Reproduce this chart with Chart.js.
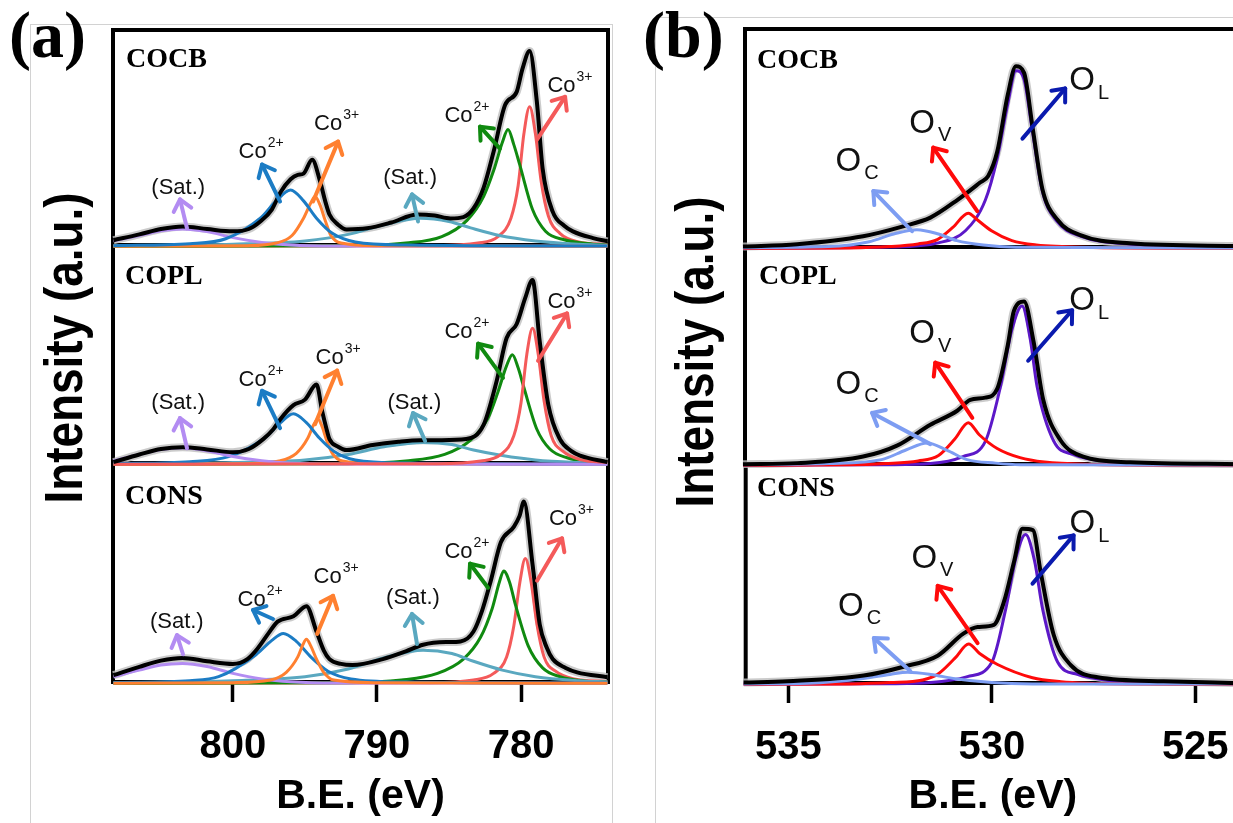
<!DOCTYPE html>
<html>
<head>
<meta charset="utf-8">
<script src="https://cdn.jsdelivr.net/npm/chart.js@4.4.1/dist/chart.umd.min.js"></script>
<style>
  html, body { margin: 0; padding: 0; background: #fff; overflow: hidden; }
  #page { position: relative; width: 1233px; height: 823px; overflow: hidden; background: #fff; }
  #page canvas { position: absolute; }
  .txt { position: absolute; white-space: nowrap; color: #000; line-height: 1; z-index: 10; }
  .serif { font-family: "Liberation Serif", "Times New Roman", serif; font-weight: bold; }
  .sans { font-family: "Liberation Sans", Arial, sans-serif; font-weight: bold; }
  .ylab { width: 500px; height: 60px; line-height: 60px; text-align: center; font-size: 54px;
          transform: rotate(-90deg) scaleX(0.85); }
  .edge { position: absolute; border-color: #d2d2d2; border-style: solid; z-index: 0; }
</style>
</head>
<body>
<div id="page">
  <div class="edge" style="left:30px;top:24px;width:581px;height:820px;border-width:1px 1px 0 1px;"></div>
  <div class="edge" style="left:655px;top:17px;width:700px;height:820px;border-width:1px 0 0 1px;"></div>

  <div class="txt serif" style="left:9px;top:2px;font-size:66px;">(a)</div>
  <div class="txt serif" style="left:643px;top:2px;font-size:66px;">(b)</div>

  <div class="txt sans ylab" style="left:-187px;top:318px;">Intensity (a.u.)</div>
  <div class="txt sans ylab" style="left:444px;top:322px;">Intensity (a.u.)</div>

  <div class="txt serif" style="left:126px;top:44px;font-size:28px;">COCB</div>
  <div class="txt serif" style="left:125px;top:261px;font-size:28px;">COPL</div>
  <div class="txt serif" style="left:125px;top:481px;font-size:28px;">CONS</div>
  <div class="txt serif" style="left:757px;top:45px;font-size:28px;">COCB</div>
  <div class="txt serif" style="left:759px;top:261px;font-size:28px;">COPL</div>
  <div class="txt serif" style="left:757px;top:473px;font-size:28px;">CONS</div>
</div>

<script>
// ---------- Co 2p, panel (a): [binding energy eV, intensity a.u.] ----------
const coTicks = [800, 790, 780];
const coRange = [773.96, 808.33];

const aCOCB_total = [[808.3,2.8],[806.5,5.5],[805,8],[803.5,9.2],[801.8,8],[800,6.9],[798.9,8],[798.1,11.5],[797.3,17],[796.7,25],[796.0,31],[795.5,33],[795.1,33.6],[794.5,40],[793.95,30],[793.6,21],[793.3,14.7],[792.7,10],[792.1,7.8],[790.7,8.3],[789,11],[787.2,14.7],[786,14.2],[784.9,12.9],[784,13.5],[783.3,17.5],[782.6,27],[781.9,43.8],[781.1,65.4],[780.3,71.4],[779.9,82],[779.4,90.3],[778.9,66.8],[778.5,36],[777.8,16],[777,9.5],[776.4,6.9],[775,3.8],[774.0,2.3]];
const aCOCB_satHi = [[808.3,2.5],[806.5,5],[805,7.2],[803.5,8],[801.8,6.8],[800,4],[798,1.8],[796,0.6],[793,0.1],[774,0]];
const aCOCB_co2Hi = [[808.3,0.3],[803,1.2],[800.5,3.5],[798.1,13],[797,21],[796,26],[795.1,21],[794.2,13],[793.1,6],[791.5,2],[788,0.6],[774,0.1]];
const aCOCB_co3Hi = [[808.3,0],[799,0.3],[797,1.5],[795.9,5],[795.1,13],[794.6,20],[794.3,23],[793.95,19],[793.6,12],[793.2,5],[792.5,1.5],[790,0.3],[774,0]];
const aCOCB_satLo = [[808.3,0.3],[800,1],[795,2.5],[792,5.5],[789.5,10],[787,13],[785,11.5],[783.5,8.5],[781.5,5],[779,2.5],[776,1],[774,0.5]];
const aCOCB_co2Lo = [[808.3,0],[792,0.3],[788,1.5],[785.5,4.5],[783.75,12],[782.6,23],[781.9,35],[781.3,48],[780.9,54],[780.5,47],[780.1,38],[779.2,17],[778.3,7],[777,3],[775,1],[774,0.6]];
const aCOCB_co3Lo = [[808.3,0],[786,0.3],[783,1.5],[781.6,4.5],[780.7,13],[780.2,28],[779.8,52],[779.4,64.5],[779.0,52],[778.6,30],[778.1,14],[777.3,6],[776,2],[774,0.8]];

const aCOPL_total = [[808.3,1],[806.5,4.5],[805,7],[803.5,7.8],[801.8,6.8],[800,5.5],[798.9,7],[797.9,11.5],[797.2,16],[796.7,20.7],[795.8,27],[795.0,29.5],[794.2,36.4],[793.8,24],[793.5,16],[793.3,11.5],[792.7,8],[792.1,6.5],[790.3,8.8],[788.5,10.3],[787.0,11],[785.5,11],[783.8,11.5],[782.6,18],[781.7,37.8],[781.0,57.6],[780.3,64],[779.7,76],[779.2,84],[778.7,56],[778.1,27],[777.3,11.5],[776.5,6],[775.9,4],[774.0,1]];
const aCOPL_satHi = [[808.3,1.5],[806.5,4.5],[805,6.8],[803.5,7.5],[801.8,6.2],[800,3.6],[798,1.6],[796,0.5],[793,0.1],[774,0]];
const aCOPL_co2Hi = [[808.3,0.3],[803,1.2],[800.3,3.5],[797.8,12],[796.7,19],[795.8,23],[794.9,19],[794.0,12],[793,6],[791.5,2],[788,0.6],[774,0.1]];
const aCOPL_co3Hi = [[808.3,0],[799,0.3],[796.8,1.5],[795.6,5],[794.8,12],[794.4,18],[794.1,20.7],[793.8,17],[793.5,11],[793.1,5],[792.4,1.5],[790,0.3],[774,0]];
const aCOPL_satLo = [[808.3,0.3],[800,0.8],[795,2],[792,4.5],[789.5,8],[786.8,10],[784.8,9],[783.3,6.5],[781.3,4],[779,2],[776,0.8],[774,0.4]];
const aCOPL_co2Lo = [[808.3,0],[792,0.3],[788,1.5],[785.3,4.5],[783.5,11],[782.3,21],[781.6,33],[781.0,45],[780.6,50],[780.2,44],[779.8,35],[778.9,16],[778,7],[776.8,3],[775,1],[774,0.6]];
const aCOPL_co3Lo = [[808.3,0],[786,0.3],[782.8,1.5],[781.4,4.5],[780.5,13],[780.0,28],[779.6,50],[779.2,62],[778.8,50],[778.4,29],[777.9,13],[777.1,6],[775.8,2],[774,0.8]];

const aCONS_total = [[808.3,3.7],[806.5,7.5],[805,10.3],[803.5,11.5],[801.8,10],[800,8.8],[799,11],[798.3,15.7],[797.5,23],[796.9,28],[795.8,30.4],[794.9,35],[794.2,23.5],[793.7,15],[793.3,11],[792.5,8.8],[791.7,8.3],[789.6,11],[788,14.5],[786.8,17.5],[785.2,18.7],[784.2,19],[783.3,23.5],[782.7,33],[782.1,46.5],[781.4,64],[780.5,71],[780.1,76],[779.8,82.5],[779.2,54],[778.7,26.7],[778.2,16],[777.8,11],[776.9,7],[776.1,5],[774.0,2.8]];
const aCONS_satHi = [[808.3,3],[806.5,6],[805,8.3],[803.5,9],[801.8,7.6],[800,4.5],[798,2],[796,0.7],[793,0.1],[774,0]];
const aCONS_co2Hi = [[808.3,0.3],[803,1.2],[801,3],[798.4,13],[797.3,19.5],[796.5,22.6],[795.6,19],[794.6,12],[793.4,5.5],[791.8,2],[788,0.6],[774,0.1]];
const aCONS_co3Hi = [[808.3,0],[800,0.3],[797.4,1.5],[796.3,5],[795.5,12],[795.15,17.5],[794.9,20],[794.6,17],[794.2,11],[793.7,5],[793,1.5],[790,0.3],[774,0]];
const aCONS_satLo = [[808.3,0.3],[800,1.2],[795,3],[792,6.5],[789.3,12],[786.8,15],[784.8,13.5],[783.3,10],[781.3,6],[779,3],[776,1.2],[774,0.6]];
const aCONS_co2Lo = [[808.3,0],[792,0.3],[788.3,1.5],[785.8,4.5],[784,11],[782.8,21],[782,34],[781.5,46],[781.2,51],[780.8,46],[780.4,36],[779.5,17],[778.5,7],[777.3,3],[775.5,1],[774,0.6]];
const aCONS_co3Lo = [[808.3,0],[786.5,0.3],[783.3,1.5],[781.9,4.5],[781,12],[780.5,26],[780.1,45],[779.7,56.7],[779.3,46],[778.9,27],[778.4,12],[777.6,5.5],[776.3,2],[774,0.8]];

// ---------- O 1s, panel (b) ----------
const oTicks = [535, 530, 525];
const oRange = [523.9, 536.05];

const bCOCB_total = [[536.1,0.8],[534.77,1.9],[533.15,5.5],[532.17,10],[531.5,14],[530.84,22],[530.28,30],[530.08,33],[529.86,44],[529.6,70],[529.4,83],[529.2,80],[528.99,55],[528.75,27],[528.38,13],[527.82,6],[526.6,2.3],[523.9,1]];
const bCOCB_lat = [[536.1,0.1],[532.5,0.6],[531.3,2.5],[530.64,8],[530.15,22],[529.86,41],[529.6,66],[529.4,81],[529.2,77],[529.0,54],[528.75,26],[528.4,12.5],[527.8,5.5],[526.6,2],[523.9,0.7]];
const bCOCB_vac = [[536.1,0],[533.5,0.2],[532.5,0.8],[531.8,2],[531.33,4],[530.95,9.5],[530.57,16],[530.35,13],[530.0,8],[529.5,3.5],[528.9,1.5],[527.5,0.4],[523.9,0]];
const bCOCB_ads = [[536.1,0.3],[534,0.8],[533,3],[532.4,6.5],[531.83,8.5],[531.3,6.5],[530.85,3.5],[530.2,1.5],[529.4,0.5],[523.9,0.1]];

const bCOPL_total = [[536.1,0.5],[534.77,1],[533.15,4],[532.32,9],[531.5,18.6],[530.84,25],[530.52,30],[530.15,31],[529.86,35],[529.6,55],[529.45,70.7],[529.2,75],[528.97,57],[528.73,30],[528.31,11.6],[527.75,4],[526.6,1.4],[523.9,0.5]];
const bCOPL_lat = [[536.1,0.1],[532.5,0.3],[531.5,0.8],[530.7,4],[530.15,11],[529.78,36],[529.5,62],[529.25,73],[529.05,58],[528.88,36],[528.47,11],[528,5],[527,1.5],[525.5,0.5],[523.9,0.3]];
const bCOPL_vac = [[536.1,0],[533.5,0.2],[532.6,0.8],[531.8,2],[531.3,4.5],[530.9,12],[530.57,19.5],[530.3,14],[529.86,7.7],[529.3,3.5],[528.7,1.5],[527.5,0.4],[523.9,0]];
const bCOPL_ads = [[536.1,0.3],[534,0.8],[532.7,2.6],[532.1,7],[531.58,10.2],[531.1,7],[530.6,2.6],[529.9,1],[529.3,0.3],[523.9,0.1]];

const bCONS_total = [[536.1,0.8],[535.02,1.4],[533.15,4],[532.17,8],[531.33,13],[530.7,23],[530.35,26],[529.95,27],[529.7,37.6],[529.45,56],[529.25,70.6],[528.99,70],[528.8,51],[528.48,22.5],[528.06,8.7],[527.4,3.2],[525.78,1.4],[523.9,0.5]];
const bCONS_lat = [[536.1,0.1],[532.5,0.3],[531.5,0.8],[530.6,3.5],[530.0,10],[529.66,34],[529.4,58],[529.17,68],[528.95,56],[528.75,34],[528.38,10],[527.9,4.5],[527,1.5],[525.5,0.5],[523.9,0.3]];
const bCONS_vac = [[536.1,0],[533.5,0.2],[532.5,0.8],[531.7,2],[531.33,4.6],[530.9,12],[530.57,18.3],[530.3,14],[529.86,9],[529.0,3],[528.3,1.2],[527.5,0.4],[523.9,0]];
const bCONS_ads = [[536.1,0.2],[534.5,0.5],[533.2,2.5],[532.5,4.5],[532.07,5.5],[531.5,4.5],[530.9,2.5],[530.0,0.8],[529,0.2],[523.9,0.1]];

// colours
const cSatHi = "#b38cf2", cCo2Hi = "#1c7cc4", cCo3Hi = "#ff8030", cSatLo = "#5aa8c0",
      cCo2Lo = "#108a10", cCo3Lo = "#f45a5a";
const cLat = "#5c18c8", cLatArrow = "#0a1aae", cVac = "#ff0a0a", cAds = "#7d9df2";

// annotation arrows: tail, head, label anchor (centre x, baseline) in data units
const co2p = (s) => ({ main: "Co", sup: s });
const sat = { main: "(Sat.)" };
const oSub = (s) => ({ main: "O", sub: s, big: true });

const aCOCB_notes = [
  { tail: [803.19, 8.3], head: [803.68, 21.7], at: [803.8, 24.4], label: sat, color: cSatHi },
  { tail: [796.73, 20.7], head: [797.98, 37.8], at: [798.05, 40.6], label: co2p("2+"), color: cCo2Hi },
  { tail: [794.44, 20.7], head: [792.7, 48.4], at: [792.8, 53.9], label: co2p("3+"), color: cCo3Hi },
  { tail: [787.15, 11.5], head: [787.57, 24], at: [787.7, 28.6], label: sat, color: cSatLo },
  { tail: [781.46, 45.2], head: [782.85, 55.3], at: [783.75, 57.6], label: co2p("2+"), color: cCo2Lo },
  { tail: [778.89, 49.3], head: [776.94, 69.1], at: [776.6, 71.4], label: co2p("3+"), color: cCo3Lo },
];
const aCOPL_notes = [
  { tail: [803.19, 7.3], head: [803.68, 21.1], at: [803.8, 25.2], label: sat, color: cSatHi },
  { tail: [796.73, 16.5], head: [797.98, 33.5], at: [798.05, 35.8], label: co2p("2+"), color: cCo2Hi },
  { tail: [794.3, 18.3], head: [792.77, 42.7], at: [792.7, 45.9], label: co2p("3+"), color: cCo3Hi },
  { tail: [786.66, 10.6], head: [787.5, 23.4], at: [787.4, 25.2], label: sat, color: cSatLo },
  { tail: [781.25, 39.4], head: [782.98, 55], at: [783.75, 57.8], label: co2p("2+"), color: cCo2Lo },
  { tail: [778.82, 47.2], head: [776.8, 68.8], at: [776.6, 71.1], label: co2p("3+"), color: cCo3Lo },
];
const aCONS_notes = [
  { tail: [803.47, 13.2], head: [803.89, 21.9], at: [803.9, 25.1], label: sat, color: cSatHi },
  { tail: [797.22, 29.2], head: [798.61, 33.3], at: [798.12, 35.2], label: co2p("2+"), color: cCo2Hi },
  { tail: [794.16, 22.4], head: [793.05, 39.7], at: [792.84, 45.7], label: co2p("3+"), color: cCo3Hi },
  { tail: [787.22, 17.8], head: [787.57, 31.5], at: [787.5, 36.1], label: sat, color: cSatLo },
  { tail: [782.29, 43.4], head: [783.54, 54.3], at: [783.75, 57.1], label: co2p("2+"), color: cCo2Lo },
  { tail: [778.89, 46.6], head: [777.15, 65.8], at: [776.5, 71.7], label: co2p("3+"), color: cCo3Lo },
];
const bCOCB_notes = [
  { tail: [529.24, 50], head: [528.19, 72.9], at: [527.6, 72], label: oSub("L"), color: cLatArrow },
  { tail: [530.35, 17], head: [531.43, 45.9], at: [531.5, 52.8], label: oSub("V"), color: cVac },
  { tail: [531.95, 7.8], head: [532.9, 26.1], at: [533.3, 35.3], label: oSub("C"), color: cAds },
];
const bCOPL_notes = [
  { tail: [529.1, 47.9], head: [528.02, 71], at: [527.6, 71], label: oSub("L"), color: cLatArrow },
  { tail: [530.47, 21.7], head: [531.38, 47], at: [531.5, 55.8], label: oSub("V"), color: cVac },
  { tail: [531.5, 9.7], head: [532.93, 24], at: [533.3, 32.7], label: oSub("C"), color: cAds },
];
const bCONS_notes = [
  { tail: [529, 45.7], head: [527.99, 67.6], at: [527.6, 68.5], label: oSub("L"), color: cLatArrow },
  { tail: [530.35, 18.7], head: [531.33, 44.7], at: [531.46, 53], label: oSub("V"), color: cVac },
  { tail: [532, 5.9], head: [532.9, 21], at: [533.25, 31], label: oSub("C"), color: cAds },
];

const SANS = '"Liberation Sans", Arial, sans-serif';
const PAD = 12;
const page = document.getElementById("page");

// black box round each plot area, drawn under the curves
const framePlugin = {
  id: "frame",
  beforeDatasetsDraw(chart) {
    const { ctx, chartArea: a } = chart;
    ctx.save();
    ctx.strokeStyle = "#000";
    ctx.lineWidth = 4;
    ctx.strokeRect(a.left, a.top, a.right - a.left, a.bottom - a.top);
    ctx.restore();
  },
};

const notesPlugin = {
  id: "notes",
  afterDatasetsDraw(chart, args, opts) {
    const { ctx, scales: { x, y } } = chart;
    (opts.list || []).forEach((n) => {
      const x1 = x.getPixelForValue(n.tail[0]), y1 = y.getPixelForValue(n.tail[1]);
      const x2 = x.getPixelForValue(n.head[0]), y2 = y.getPixelForValue(n.head[1]);
      ctx.save();
      ctx.strokeStyle = n.color;
      ctx.lineWidth = 4;
      ctx.lineCap = "round";
      ctx.lineJoin = "round";
      ctx.beginPath();
      ctx.moveTo(x1, y1);
      ctx.lineTo(x2, y2);
      ctx.stroke();
      const ang = Math.atan2(y2 - y1, x2 - x1), L = 14, sp = 0.7;
      ctx.beginPath();
      ctx.moveTo(x2 - L * Math.cos(ang - sp), y2 - L * Math.sin(ang - sp));
      ctx.lineTo(x2, y2);
      ctx.lineTo(x2 - L * Math.cos(ang + sp), y2 - L * Math.sin(ang + sp));
      ctx.stroke();

      // label
      const lab = n.label;
      const big = lab.big ? 33 : 22;
      const small = lab.big ? 20 : 14;
      const gap = lab.big ? 3 : 1;
      ctx.fillStyle = "#111";
      ctx.textAlign = "left";
      ctx.textBaseline = "alphabetic";
      ctx.font = big + "px " + SANS;
      const w1 = ctx.measureText(lab.main).width;
      const side = lab.sup || lab.sub;
      ctx.font = small + "px " + SANS;
      const w2 = side ? ctx.measureText(side).width + gap : 0;
      const lx = x.getPixelForValue(n.at[0]) - (w1 + w2) / 2;
      const ly = y.getPixelForValue(n.at[1]);
      ctx.font = big + "px " + SANS;
      ctx.fillText(lab.main, lx, ly);
      if (side) {
        ctx.font = small + "px " + SANS;
        const dy = lab.sub ? 0.25 * big : -0.5 * big;
        ctx.fillText(side, lx + w1 + gap, ly + dy);
      }
      ctx.restore();
    });
  },
};

function line(data, color, width) {
  return {
    data,
    borderColor: color,
    borderWidth: width,
    pointRadius: 0,
    fill: false,
    clip: 4,
    cubicInterpolationMode: "monotone",
  };
}

function stack(total, comps) {
  return [
    line(total, "#000", 4),
    ...comps.map((c) => line(c[0], c[1], 3)),
    line(total, "rgba(190,190,190,0.8)", 8),
  ];
}

function plot(box, range, ticks, sets, notes, z, withAxis) {
  const cv = document.createElement("canvas");
  const w = box.r - box.l + 2 * PAD;
  const h = withAxis ? 823 - box.t + PAD : box.b - box.t + 2 * PAD;
  cv.width = w;
  cv.height = h;
  cv.style.left = box.l - PAD + "px";
  cv.style.top = box.t - PAD + "px";
  cv.style.width = w + "px";
  cv.style.height = h + "px";
  cv.style.zIndex = z;
  page.appendChild(cv);
  const axisH = 823 - box.b;

  const xScale = {
    type: "linear",
    min: range[0],
    max: range[1],
    reverse: true,
    display: withAxis,
    afterBuildTicks: (s) => {
      s.ticks = ticks.map((v) => ({ value: v }));
    },
    grid: {
      drawOnChartArea: false,
      drawTicks: true,
      tickLength: 20,
      tickWidth: 3.5,
      tickColor: "#000",
    },
    border: { display: false },
    ticks: {
      color: "#000",
      autoSkip: false,
      maxRotation: 0,
      padding: 21,
      font: { family: SANS, size: 40, weight: "bold" },
    },
    title: {
      display: true,
      text: "B.E. (eV)",
      color: "#000",
      padding: { top: 0, bottom: 2 },
      font: { family: SANS, size: 41, weight: "bold" },
    },
  };
  if (withAxis) {
    xScale.afterFit = (s) => {
      s.height = axisH;
    };
  }

  new Chart(cv, {
    type: "line",
    data: { datasets: sets },
    options: {
      responsive: false,
      animation: false,
      devicePixelRatio: 1,
      events: [],
      layout: { padding: { left: PAD, right: PAD, top: PAD, bottom: withAxis ? 0 : PAD } },
      plugins: {
        legend: { display: false },
        tooltip: { enabled: false },
        notes: { list: notes },
      },
      scales: {
        x: xScale,
        y: { display: false, min: 0.6, max: 100 },
      },
    },
    plugins: [framePlugin, notesPlugin],
  });
}

// panel (a) Co 2p
plot({ l: 113, r: 608, t: 30, b: 245 }, coRange, coTicks,
  stack(aCOCB_total, [[aCOCB_co2Hi, cCo2Hi], [aCOCB_co3Hi, cCo3Hi], [aCOCB_satHi, cSatHi],
    [aCOCB_satLo, cSatLo], [aCOCB_co2Lo, cCo2Lo], [aCOCB_co3Lo, cCo3Lo]]),
  aCOCB_notes, 3, false);
plot({ l: 113, r: 608, t: 245, b: 463 }, coRange, coTicks,
  stack(aCOPL_total, [[aCOPL_co3Lo, cCo3Lo], [aCOPL_satHi, cSatHi], [aCOPL_co2Hi, cCo2Hi],
    [aCOPL_co3Hi, cCo3Hi], [aCOPL_satLo, cSatLo], [aCOPL_co2Lo, cCo2Lo]]),
  aCOPL_notes, 2, false);
plot({ l: 113, r: 608, t: 463, b: 682 }, coRange, coTicks,
  stack(aCONS_total, [[aCONS_co3Hi, cCo3Hi], [aCONS_co2Hi, cCo2Hi], [aCONS_satHi, cSatHi],
    [aCONS_satLo, cSatLo], [aCONS_co2Lo, cCo2Lo], [aCONS_co3Lo, cCo3Lo]]),
  aCONS_notes, 1, true);

// panel (b) O 1s
plot({ l: 745, r: 1240, t: 29, b: 247 }, oRange, oTicks,
  stack(bCOCB_total, [[bCOCB_ads, cAds], [bCOCB_vac, cVac], [bCOCB_lat, cLat]]),
  bCOCB_notes, 3, false);
plot({ l: 745, r: 1240, t: 247, b: 464 }, oRange, oTicks,
  stack(bCOPL_total, [[bCOPL_ads, cAds], [bCOPL_vac, cVac], [bCOPL_lat, cLat]]),
  bCOPL_notes, 2, false);
plot({ l: 745, r: 1240, t: 464, b: 683 }, oRange, oTicks,
  stack(bCONS_total, [[bCONS_ads, cAds], [bCONS_vac, cVac], [bCONS_lat, cLat]]),
  bCONS_notes, 1, true);
</script>
</body>
</html>
